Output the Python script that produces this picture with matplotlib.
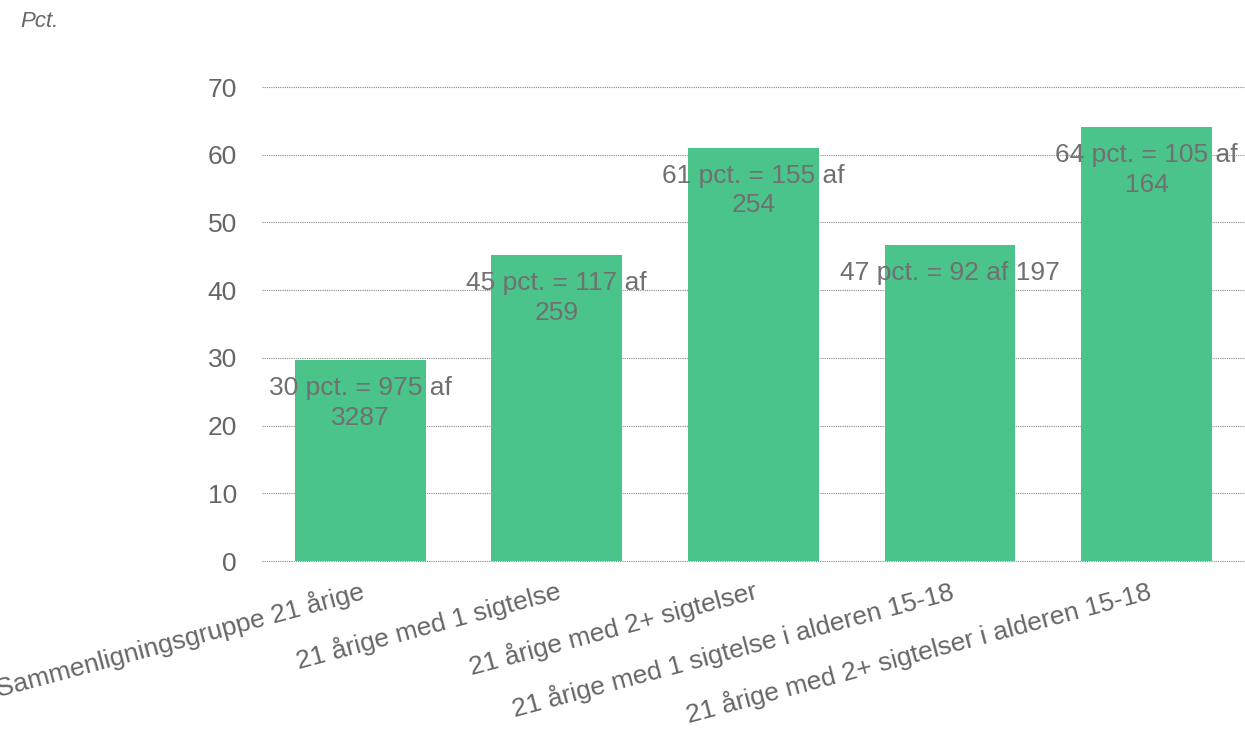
import textwrap
import numpy as np
import matplotlib
matplotlib.use("Agg")
import matplotlib.pyplot as plt

plt.rcParams['font.family'] = ['Liberation Sans', 'DejaVu Sans']

# Grupper og antal med sigtelse / i alt
grupper = [
    "Sammenligningsgruppe 21 årige",
    "21 årige med 1 sigtelse",
    "21 årige med 2+ sigtelser",
    "21 årige med 1 sigtelse i alderen 15-18",
    "21 årige med 2+ sigtelser i alderen 15-18",
]
antal = [975, 117, 155, 92, 105]
i_alt = [3287, 259, 254, 197, 164]
pct = [100 * a / n for a, n in zip(antal, i_alt)]

groen = "#4bc48b"
tekst_graa = "#666666"

fig = plt.figure(figsize=(12.45, 7.3), dpi=100)
ax = fig.add_axes([0.2104, 0.2315, 0.7896, 0.6493])

x = np.arange(len(grupper))
ax.bar(x, pct, width=0.665, color=groen, zorder=2)

ax.set_xlim(-0.5, len(grupper) - 0.5)
ax.set_ylim(0, 70)
ax.set_yticks(range(0, 71, 10))
ax.yaxis.grid(True, linestyle=(0, (1, 1)), color="#888888", linewidth=0.8, zorder=0)
for gl in ax.yaxis.get_gridlines():
    gl.set_clip_on(False)
ax.set_axisbelow(True)
for s in ax.spines.values():
    s.set_visible(False)
ax.tick_params(axis="y", length=0, pad=18, labelsize=19, labelcolor=tekst_graa)
ax.tick_params(axis="x", length=0, pad=12, labelsize=19, labelcolor=tekst_graa)

ax.set_xticks(x)
ax.set_xticklabels(grupper, rotation=15, ha="right", rotation_mode="anchor")

# Etiketter inde i toppen af søjlerne
for xi, p, a, n in zip(x, pct, antal, i_alt):
    tekst = textwrap.fill(f"{round(p)} pct. = {a} af {n}", 19)
    ax.annotate(tekst, (xi, p), xytext=(0, -16), textcoords="offset pixels",
                ha="center", va="top", fontsize=19, color="#707070",
                linespacing=1.3, zorder=3)

fig.text(0.016, 0.97, "Pct.", fontsize=16, style="italic", color=tekst_graa,
         va="center", ha="left")

fig.savefig("out.png", dpi=100)
